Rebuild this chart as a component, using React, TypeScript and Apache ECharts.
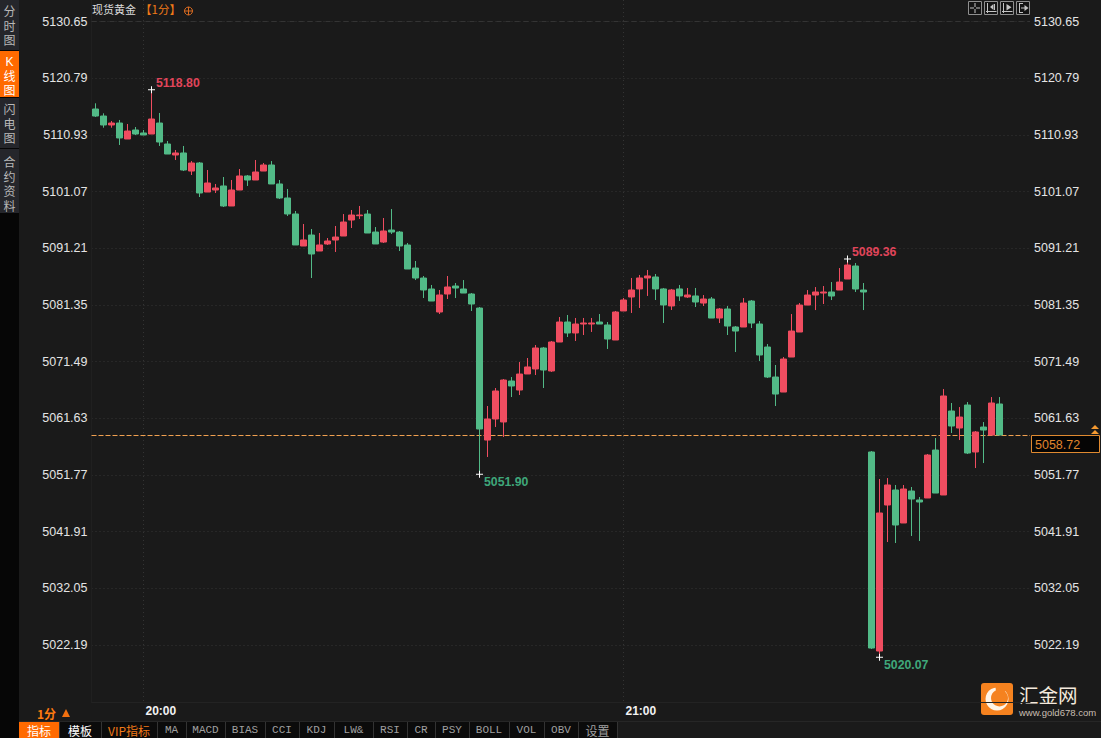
import React, { useEffect, useRef } from "react";
import * as echarts from "echarts";

const firstMinute = 1194; // 19:54
const opens = [5115.43,5114.21,5112.65,5112.99,5110.21,5111.78,5111.26,5111.08,5112.99,5109.34,
5107.43,5107.78,5104.64,5106.04,5100.99,5101.34,5102.04,5098.56,5101.34,5103.78,
5103.08,5104.64,5105.69,5102.39,5099.95,5097.17,5091.60,5093.51,5090.73,5091.95,
5092.64,5093.34,5096.12,5096.87,5097.16,5094.03,5092.29,5094.38,5094.03,5091.77,
5087.77,5086.03,5084.12,5080.12,5083.25,5084.64,5084.12,5083.25,5080.81,5057.85,
5061.51,5060.99,5068.12,5066.55,5069.34,5070.21,5073.86,5069.86,5074.90,5078.38,
5076.47,5078.03,5078.03,5078.38,5077.86,5075.25,5080.30,5082.73,5084.13,5086.04,
5086.21,5084.13,5081.17,5084.13,5082.73,5082.91,5081.68,5082.38,5079.07,5080.64,
5077.51,5077.51,5082.03,5078.03,5074.03,5068.81,5066.20,5072.29,5076.64,5081.33,
5083.07,5083.42,5083.60,5083.94,5085.86,5088.12,5083.94,5055.77,5021.15,5046.55,
5049.16,5043.42,5048.98,5047.42,5047.77,5056.11,5048.29,5062.90,5059.94,5063.94,
5055.77,5060.11,5058.72,5064.12];
const closes = [5114.21,5112.65,5112.99,5110.39,5111.60,5111.08,5110.91,5113.69,5109.69,5107.60,
5107.78,5104.82,5106.04,5100.82,5102.56,5101.69,5098.56,5101.34,5103.78,5103.08,
5104.47,5105.69,5102.39,5099.95,5097.17,5091.78,5092.65,5090.21,5091.78,5092.47,
5093.16,5095.77,5096.99,5096.99,5093.86,5091.95,5094.21,5094.03,5091.60,5087.60,
5086.03,5083.95,5082.03,5083.08,5084.47,5084.29,5083.42,5081.51,5059.77,5061.51,
5066.38,5068.29,5067.25,5069.33,5070.56,5073.86,5070.03,5074.90,5078.38,5076.47,
5078.03,5078.21,5078.21,5078.03,5075.42,5080.12,5082.21,5083.95,5086.04,5086.39,
5084.13,5081.34,5083.95,5082.91,5083.08,5081.86,5082.38,5079.07,5080.64,5077.68,
5076.81,5081.68,5078.20,5072.64,5068.81,5065.85,5071.94,5076.81,5081.33,5083.07,
5083.60,5083.60,5082.90,5085.33,5088.29,5084.12,5083.60,5021.67,5045.16,5050.03,
5043.07,5049.33,5047.59,5047.07,5055.24,5048.63,5065.51,5060.29,5061.85,5055.59,
5059.25,5059.59,5064.29,5058.72];
const lows = [5114.04,5112.18,5112.18,5109.17,5110.21,5110.91,5110.91,5111.08,5109.00,5107.60,
5106.56,5104.64,5103.95,5100.12,5100.99,5100.82,5098.38,5098.56,5101.34,5102.04,
5103.08,5104.64,5102.39,5099.78,5096.82,5091.78,5091.60,5086.03,5090.73,5091.78,
5090.56,5093.34,5094.73,5096.30,5093.86,5091.95,5092.12,5093.69,5090.73,5087.60,
5085.68,5082.55,5082.03,5079.77,5082.38,5082.55,5083.42,5080.29,5051.90,5054.90,
5060.12,5058.38,5065.33,5065.68,5069.34,5069.16,5066.90,5069.69,5074.90,5075.77,
5075.08,5076.12,5076.65,5078.03,5073.69,5075.25,5080.30,5079.95,5080.82,5082.91,
5082.21,5078.21,5080.47,5082.04,5082.56,5080.99,5081.16,5079.07,5078.20,5076.12,
5073.16,5077.51,5077.33,5071.59,5068.64,5063.77,5066.20,5072.29,5076.64,5081.33,
5080.46,5081.51,5082.20,5083.94,5085.86,5083.60,5080.46,5021.50,5020.07,5040.11,
5039.94,5043.42,5041.16,5040.29,5047.77,5048.63,5048.29,5059.07,5057.85,5055.42,
5052.98,5053.85,5058.72,5058.72];
const highs = [5116.42,5114.68,5113.34,5113.52,5112.82,5112.30,5111.78,5118.80,5114.74,5109.87,
5108.30,5109.00,5106.38,5106.21,5104.82,5102.39,5103.60,5103.08,5104.99,5103.95,
5106.56,5106.04,5106.38,5103.08,5101.52,5097.69,5095.43,5094.56,5093.86,5092.99,
5095.08,5097.16,5097.86,5098.56,5097.86,5094.90,5096.47,5098.03,5094.21,5092.12,
5088.99,5086.38,5084.82,5083.95,5086.38,5085.16,5085.68,5083.42,5080.99,5063.77,
5066.90,5068.46,5068.81,5071.42,5072.12,5074.38,5074.04,5075.08,5079.25,5079.60,
5079.08,5079.08,5079.08,5079.77,5078.38,5080.30,5082.56,5086.04,5086.56,5087.43,
5086.73,5084.30,5084.13,5084.82,5084.30,5084.30,5083.07,5082.73,5080.81,5081.16,
5077.68,5082.55,5082.20,5078.55,5074.55,5070.90,5072.29,5079.77,5081.68,5083.94,
5084.46,5084.64,5085.33,5087.77,5089.36,5088.64,5085.16,5055.94,5051.07,5051.24,
5050.03,5050.03,5049.68,5047.94,5055.42,5058.20,5066.72,5064.29,5063.59,5064.46,
5059.42,5060.98,5065.33,5065.33];

const priceTicks = [5130.65,5120.79,5110.93,5101.07,5091.21,5081.35,5071.49,5061.63,5051.77,5041.91,5032.05,5022.19];
const timeTicks = [1200, 1260];
const lastPrice = 5058.72;
const extremes = [
  { minute: 1201, price: 5118.80, high: true },
  { minute: 1242, price: 5051.90, high: false },
  { minute: 1288, price: 5089.36, high: true },
  { minute: 1292, price: 5020.07, high: false },
];
const sideTabs = ["分时图", "K线图", "闪电图", "合约资料"];
const bottomTabs = ["指标","模板","VIP指标","MA","MACD","BIAS","CCI","KDJ","LW&","RSI","CR","PSY","BOLL","VOL","OBV","设置"];

const RED = "#EF4D60";
const GREEN = "#52BA87";
const BG = "#1A1A1A";
const ORANGE = "#FF6A00";
const LASTC = "#F0A050";
const CJK = '"Noto Sans CJK SC", sans-serif';
const SANS = '"Liberation Sans", Arial, sans-serif';
const SIDE = '"Liberation Sans", "Noto Sans CJK SC", sans-serif';

const T = (x: number, y: number, text: string, fill: string, font: string, align = "left", extra: any = {}) => ({
  type: "text", silent: true, x, y,
  style: { text, fill, font, align, verticalAlign: "middle", ...extra },
});
const R = (x: number, y: number, w: number, h: number, fill: string, stroke?: string, r = 0) => ({
  type: "rect", silent: true, shape: { x, y, width: w, height: h, r },
  style: stroke ? { fill, stroke, lineWidth: 1 } : { fill },
});
const L = (x1: number, y1: number, x2: number, y2: number, stroke: string) => ({
  type: "line", silent: true, shape: { x1, y1, x2, y2 }, style: { stroke, lineWidth: 1 },
});

function chrome(): any[] {
  const g: any[] = [];
  // left sidebar
  g.push(R(0, 0, 19, 738, "#060606"));
  const sideBoxes = [[0, 50], [51, 46], [98, 50], [149, 64]];
  const sideFirst = [12, 62, 110, 163];
  sideTabs.forEach((t, i) => {
    const on = i === 1;
    g.push(R(0, sideBoxes[i][0], 19, sideBoxes[i][1], on ? ORANGE : "#25262B"));
    Array.from(t).forEach((ch, k) => {
      g.push(T(9.5, sideFirst[i] + k * 14.5, ch, on ? "#fff" : "#B8B8B8", `12px ${SIDE}`, "center"));
    });
  });
  // header
  g.push(T(92, 9, "现货黄金", "#DCDCDC", `11px ${CJK}`));
  g.push(T(140, 9, "【1分】", "#F07A18", `11.5px ${CJK}`));
  g.push({ type: "circle", silent: true, shape: { cx: 188.5, cy: 11, r: 4 }, style: { fill: "none", stroke: "#D86A20", lineWidth: 1 } });
  g.push(L(184, 11, 193, 11, "#D86A20"), L(188.5, 7, 188.5, 15, "#D86A20"));
  // top right icons
  const ICON = "#C4C4C4";
  [968, 984, 1000, 1016].forEach((x, i) => {
    g.push(R(x, 1, 14, 14, "#0A0A0A"));
    g.push(R(x + 0.5, 1.5, 13, 13, "#141414", "#8F8F8F"));
    if (i === 0) {
      g.push(L(x + 2, 8, x + 6, 8, ICON), L(x + 8, 8, x + 12, 8, ICON), L(x + 7, 3, x + 7, 7, ICON), L(x + 7, 9, x + 7, 13, ICON));
    } else if (i < 3) {
      g.push(L(x + 3.5, 3, x + 3.5, 13, ICON), L(x + 2, 11.5, x + 12.5, 11.5, ICON));
      g.push({ type: "polygon", silent: true, shape: { points: i === 1 ? [[x + 9.5, 4], [x + 9.5, 10], [x + 6, 7]] : [[x + 6.5, 4], [x + 6.5, 10.5], [x + 11.5, 7.2]] }, style: { fill: ICON } });
      if (i === 1) g.push(L(x + 10.5, 4, x + 10.5, 10, ICON));
    } else {
      g.push(L(x + 3.5, 3, x + 3.5, 13, ICON), L(x + 3.5, 3.5, x + 7, 3.5, ICON), L(x + 3.5, 12.5, x + 7, 12.5, ICON), L(x + 5, 8, x + 10, 8, ICON));
      g.push({ type: "polygon", silent: true, shape: { points: [[x + 8.5, 5], [x + 8.5, 11], [x + 12.5, 8]] }, style: { fill: ICON } });
    }
  });
  // last price box and arrows
  g.push(R(1031.5, 435.5, 68, 17, "#050505", "#E08A30"));
  g.push(T(1035, 444.5, lastPrice.toFixed(2), "#E0852D", `12.5px ${SANS}`));
  g.push({ type: "polygon", silent: true, shape: { points: [[1091, 429], [1095, 425], [1099, 429]] }, style: { fill: "#F59A30" } });
  g.push({ type: "polygon", silent: true, shape: { points: [[1091, 434], [1095, 430], [1099, 434]] }, style: { fill: "#F59A30" } });
  // timeframe
  g.push(T(37, 713, "1分", "#FF7A10", `bold 12px ${CJK}`));
  g.push({ type: "polygon", silent: true, shape: { points: [[62, 717], [66, 709], [70, 717]] }, style: { fill: "#F2700F" } });
  // logo
  g.push(R(981, 683, 32, 32, "#F5821F", undefined, 3));
  g.push({ type: "circle", silent: true, shape: { cx: 997, cy: 699, r: 11.5 }, style: { fill: "#FFF4E6" } });
  g.push({ type: "circle", silent: true, shape: { cx: 999.5, cy: 698, r: 8.5 }, style: { fill: "#F5821F" } });
  g.push({ type: "sector", silent: true, shape: { cx: 997, cy: 699, r: 13, r0: 7, startAngle: -1.7, endAngle: -0.75, clockwise: true }, style: { fill: "#F5821F" } });
  g.push(T(1019, 694, "汇金网", "#F3E9DC", `19.5px ${CJK}`, "left", { width: 66 }));
  g.push(T(1019, 712, "www.gold678.com", "#C9BFB3", `9.5px ${SANS}`));
  // bottom bar
  g.push(L(19, 721.5, 1101, 721.5, "#262626"));
  g.push(R(19, 722, 598, 16, "#0B0B0B"));
  const edges = [19, 59, 101, 157, 186, 225, 265, 299, 334, 373, 407, 435, 469, 509, 544, 578, 617];
  bottomTabs.forEach((t, i) => {
    const x0 = edges[i], x1 = edges[i + 1];
    if (i === 0) g.push(R(x0, 722, x1 - x0, 16, ORANGE));
    if (i > 0) g.push(L(x0 + 0.5, 722, x0 + 0.5, 738, "#333333"));
    const fill = i === 0 || i === 1 ? "#FFFFFF" : i === 2 ? "#F07A18" : "#A0A0A0";
    const ascii = /^[A-Z&]+$/.test(t);
    const font = ascii ? `11px "Liberation Mono", monospace` : `12px ${CJK}`;
    g.push(T((x0 + x1) / 2, 730, t, fill, font, "center"));
  });
  g.push(L(617.5, 722, 617.5, 738, "#333333"));
  return g;
}

export default function App() {
  const ref = useRef<HTMLDivElement>(null);
  useEffect(() => {
    if (!ref.current) return;
    const chart = echarts.init(ref.current, null, { renderer: "svg" });
    const rows = opens.map((o, i) => [firstMinute + i, o, closes[i], lows[i], highs[i]]);
    const fmtPrice = (v: number) => v.toFixed(2);
    const fmtTime = (v: number) => `${Math.floor(v / 60)}:${String(v % 60).padStart(2, "0")}`;
    const priceLabel = { color: "#E4E4E4", fontFamily: SANS, fontSize: 12.5, customValues: priceTicks, formatter: fmtPrice, margin: 4, padding: [0, 0, 2, 0] };
    const yBase = { type: "value", min: 5012.284, max: 5134.39, scale: true, axisTick: { show: false, customValues: priceTicks } };
    chart.setOption({
      animation: false,
      backgroundColor: BG,
      grid: { left: 91.5, width: 938.5, top: 0, height: 702, containLabel: false },
      xAxis: {
        type: "value", min: 1193.5, max: 1310.8125, scale: true,
        axisLine: { show: true, onZero: false, lineStyle: { color: "#232323" } },
        axisTick: { show: false, customValues: timeTicks },
        axisLabel: { customValues: timeTicks, formatter: fmtTime, color: "#F2F2F2", fontFamily: SANS, fontWeight: "bold", fontSize: 12, align: "left", margin: 3, padding: [0, 0, 0, 2] },
        splitLine: { show: true, lineStyle: { color: "#343434", type: [1, 3], width: 1 } },
      },
      yAxis: [
        { ...yBase, position: "left",
          axisLine: { show: true, onZero: false, lineStyle: { color: "#202020" } },
          axisLabel: priceLabel,
          splitLine: { show: true, lineStyle: { color: "#343434", type: [1, 3], width: 1 } } },
        { ...yBase, position: "right",
          axisLine: { show: false },
          axisLabel: priceLabel,
          splitLine: { show: false } },
      ],
      series: [{
        type: "candlestick",
        data: rows,
        encode: { x: 0, y: [1, 2, 3, 4] },
        barWidth: 6,
        itemStyle: { color: RED, color0: GREEN, borderColor: RED, borderColor0: GREEN, borderWidth: 1 },
        markLine: {
          silent: true, symbol: "none", z: 1, animation: false, label: { show: false },
          data: [
            { yAxis: lastPrice, lineStyle: { color: LASTC, type: [5, 2], width: 1 } },
            { yAxis: priceTicks[0], lineStyle: { color: "#343434", type: [5, 4], width: 1 } },
          ],
        },
        markPoint: {
          silent: true, animation: false, z: 6,
          symbol: "path://M0 3H7V4H0ZM3 0H4V7H3Z", symbolSize: 7,
          itemStyle: { color: "#FFFFFF" },
          data: extremes.map((e) => ({
            coord: [e.minute, e.price], value: e.price,
            label: {
              show: true, position: "right", distance: 1, offset: [0, e.high ? -7 : 8],
              formatter: fmtPrice(e.price), fontFamily: SANS, fontSize: 12.3, fontWeight: "bold",
              color: e.high ? "#E0455A" : "#3FA77A",
            },
          })),
        },
      }],
      graphic: { elements: chrome() },
    });
    return () => chart.dispose();
  }, []);
  return <div ref={ref} style={{ position: "fixed", left: 0, top: 0, width: 1101, height: 738, background: BG }} />;
}
